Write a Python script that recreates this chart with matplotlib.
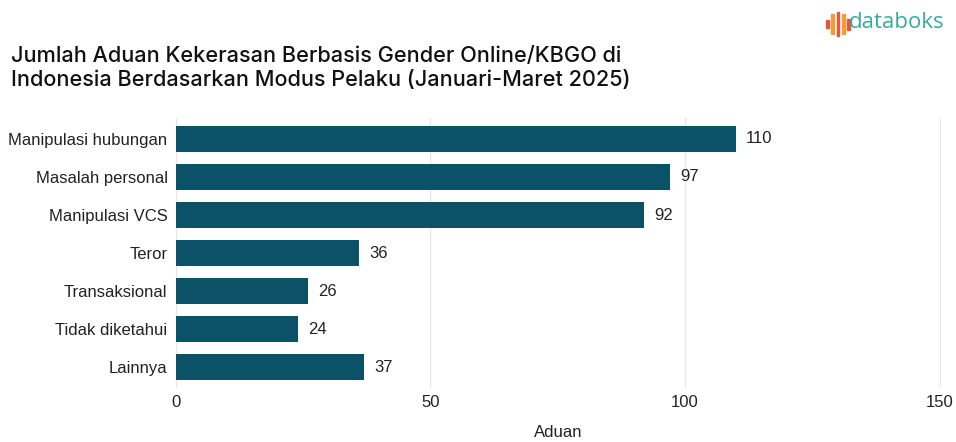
import matplotlib.pyplot as plt
from matplotlib.patches import Rectangle

# data
kategori = ['Manipulasi hubungan', 'Masalah personal', 'Manipulasi VCS', 'Teror',
            'Transaksional', 'Tidak diketahui', 'Lainnya']
aduan = [110, 97, 92, 36, 26, 24, 37]
xticks = [0, 50, 100, 150]

plt.rcParams['font.family'] = ['Liberation Sans', 'DejaVu Sans']

fig = plt.figure(figsize=(9.56, 4.42), dpi=100)
ax = fig.add_axes([0.184, 0.122, 0.800, 0.611])

ax.barh(kategori, aduan, height=0.68, color='#0b5269', zorder=3)
ax.set_ylim(6.55, -0.55)
ax.set_xlim(0, 150.2)
ax.set_xticks(xticks)
ax.grid(axis='x', color='#e6e6e6', linewidth=0.9, zorder=0)
for s in ax.spines.values():
    s.set_visible(False)
ax.tick_params(axis='both', length=0, labelsize=12, colors='#222222')
ax.tick_params(axis='x', pad=5)
ax.tick_params(axis='y', pad=6)
ax.set_xlabel('Aduan', fontsize=12, labelpad=11, color='#222222')

for i, v in enumerate(aduan):
    ax.text(v + 2, i, str(v), va='center', ha='left', fontsize=12, color='#222222')

# judul
fig.text(0.011, 0.797, 'Jumlah Aduan Kekerasan Berbasis Gender Online/KBGO di\n'
         'Indonesia Berdasarkan Modus Pelaku (Januari-Maret 2025)',
         fontsize=15.6, ha='left', va='bottom', color='#111111', linespacing=1.25,
         family=['Inter', 'DejaVu Sans'], fontweight='medium')

# logo databoks
warna = ['#e8553f', '#f39c34', '#e8553f', '#f39c34', '#e8553f']
tinggi = [0.018, 0.045, 0.055, 0.045, 0.025]
for k, (c, h) in enumerate(zip(warna, tinggi)):
    fig.patches.append(Rectangle((0.864 + k * 0.0055, 0.945 - h / 2), 0.003, h,
                                 transform=fig.transFigure, color=c))
fig.text(0.888, 0.948, 'databoks', fontsize=16, color='#3aa9a0', ha='left', va='center',
         family=['Open Sans', 'DejaVu Sans'])

fig.savefig('out.png', dpi=100)
